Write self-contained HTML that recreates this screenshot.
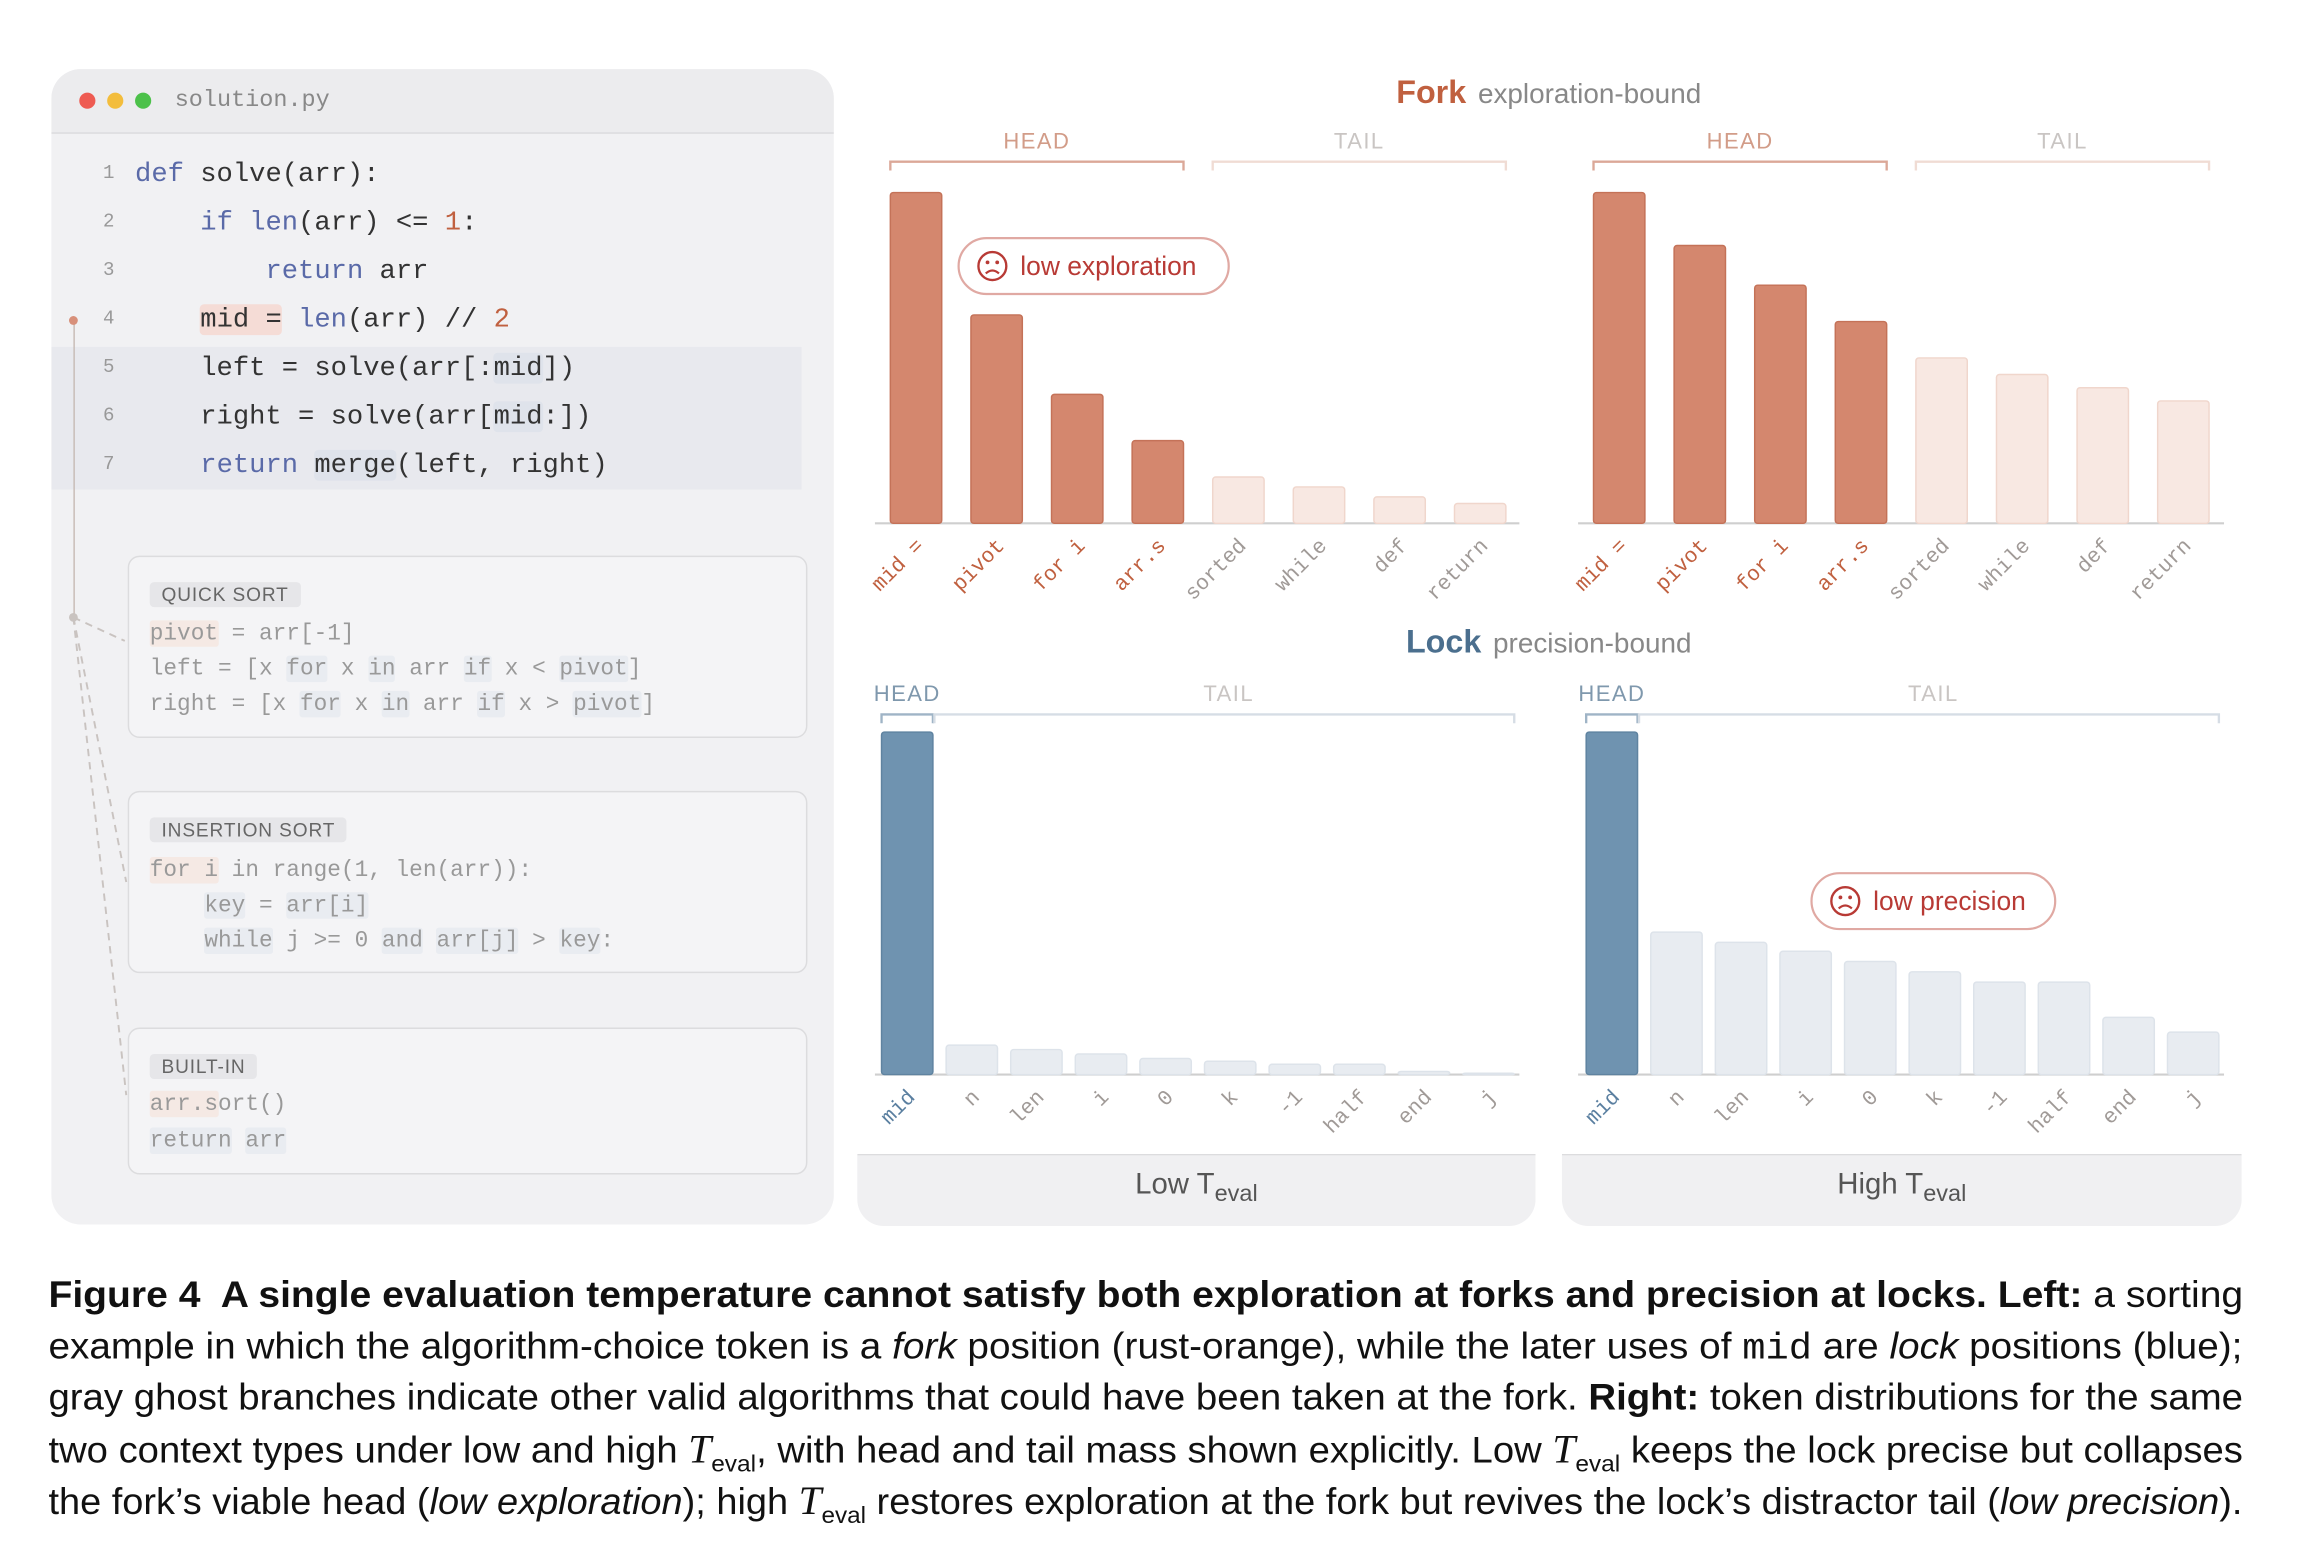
<!DOCTYPE html>
<html><head><meta charset="utf-8"><style>
html,body{margin:0;padding:0;background:#fff;width:2300px;height:1564px;overflow:hidden}
#wrap{position:absolute;left:0;top:0;width:1560px;height:1061px;transform:scale(1.468,1.470);transform-origin:0 0;font-family:"Liberation Sans",sans-serif}
.abs{position:absolute}
.mono{font-family:"Liberation Mono",monospace}
.code{position:absolute;left:92px;font-size:18.5px;color:#333;white-space:pre;line-height:24px}
.ln{position:absolute;left:64px;width:14px;text-align:right;font-size:13px;color:#999;font-family:"Liberation Mono",monospace}
.kw{color:#5a6aa8}.num{color:#c0603f}
.hl{background:#f5dcd6;border-radius:3px}
.hb{background:#dfe3eb;border-radius:3px}
.box{position:absolute;left:87px;width:461px;border:1.5px solid #dcdcde;border-radius:8px;background:#f4f4f6}
.tag{position:absolute;left:14px;font-size:13px;letter-spacing:0.6px;color:#666;background:#e6e6e9;padding:1px 8px;border-radius:3px}
.bc{position:absolute;left:14px;font-size:15.5px;color:#999;white-space:pre;font-family:"Liberation Mono",monospace;line-height:20px}
.g{background:#e9ecf1;border-radius:2px}.o{background:#f5e9e4;border-radius:2px}
.cap{position:absolute;left:33px;font-size:25px;color:#111;white-space:nowrap;transform-origin:0 50%;line-height:30px}
.T{font-family:"Liberation Serif",serif;font-style:italic;font-size:27px}
sub{font-size:16px;line-height:0}
</style></head><body>
<div id="wrap">
<div class="abs" style="left:35px;top:47px;width:533px;height:786px;background:#f1f1f3;border-radius:20px;overflow:hidden">
  <div class="abs" style="left:0;top:0;width:533px;height:43px;background:#ececee;border-bottom:1.5px solid #dcdcde"></div>
  <div class="abs" style="left:19px;top:16px;width:11px;height:11px;border-radius:50%;background:#ee5b52"></div>
  <div class="abs" style="left:38px;top:16px;width:11px;height:11px;border-radius:50%;background:#f3bd3c"></div>
  <div class="abs" style="left:57px;top:16px;width:11px;height:11px;border-radius:50%;background:#4cc14a"></div>
  <div class="abs mono" style="left:84px;top:12px;font-size:16px;color:#888">solution.py</div>
  <div class="abs" style="left:0;top:189px;width:511px;height:97px;background:#e8e9ee"></div>
</div>
<div class="abs" style="left:49.5px;top:218px;width:1.5px;height:203px;background:#c8bcb6"></div>
<div class="abs" style="left:47px;top:215px;width:6px;height:6px;border-radius:50%;background:#d8907a"></div>
<svg class="abs" style="left:0;top:0" width="600" height="833">
<g stroke="#c9c3c0" stroke-width="1.3" stroke-dasharray="5,4" fill="none">
<path d="M50 420 L85 436"/><path d="M50 420 L86 600"/><path d="M50 420 L86 745"/></g>
<circle cx="50" cy="420" r="3" fill="#c9c3c0"/></svg>
<div class="ln" style="top:110px">1</div><div class="ln" style="top:143px">2</div><div class="ln" style="top:176px">3</div><div class="ln" style="top:209px">4</div><div class="ln" style="top:242px">5</div><div class="ln" style="top:275px">6</div><div class="ln" style="top:308px">7</div>
<div class="code mono" style="top:107px"><span class="kw">def</span> solve(arr):</div>
<div class="code mono" style="top:140px">    <span class="kw">if</span> <span class="kw">len</span>(arr) &lt;= <span class="num">1</span>:</div>
<div class="code mono" style="top:173px">        <span class="kw">return</span> arr</div>
<div class="code mono" style="top:206px">    <span class="hl">mid =</span> <span class="kw">len</span>(arr) // <span class="num">2</span></div>
<div class="code mono" style="top:239px">    left = solve(arr[:<span class="hb">mid</span>])</div>
<div class="code mono" style="top:272px">    right = solve(arr[<span class="hb">mid</span>:])</div>
<div class="code mono" style="top:305px">    <span class="kw">return</span> <span class="hb">merge</span>(left, right)</div>

<div class="box" style="top:378px;height:122px">
 <div class="tag" style="top:17px">QUICK SORT</div>
 <div class="bc" style="top:42px"><span class="o">pivot</span> = arr[-1]</div>
 <div class="bc" style="top:66px">left = [x <span class="g">for</span> x <span class="g">in</span> arr <span class="g">if</span> x &lt; <span class="g">pivot</span>]</div>
 <div class="bc" style="top:90px">right = [x <span class="g">for</span> x <span class="g">in</span> arr <span class="g">if</span> x &gt; <span class="g">pivot</span>]</div>
</div>
<div class="box" style="top:538px;height:122px">
 <div class="tag" style="top:17px">INSERTION SORT</div>
 <div class="bc" style="top:43px"><span class="o">for i</span> in range(1, len(arr)):</div>
 <div class="bc" style="top:67px">    <span class="g">key</span> = <span class="g">arr[i]</span></div>
 <div class="bc" style="top:91px">    <span class="g">while</span> j &gt;= 0 <span class="g">and</span> <span class="g">arr[j]</span> &gt; <span class="g">key</span>:</div>
</div>
<div class="box" style="top:699px;height:98px">
 <div class="tag" style="top:17px">BUILT-IN</div>
 <div class="bc" style="top:41px"><span class="o">arr.s</span>ort()</div>
 <div class="bc" style="top:66px"><span class="g">return</span> <span class="g">arr</span></div>
</div>

<div class="abs" style="left:584px;top:785px;width:462px;height:48px;background:#f0f0f2;border-radius:0 0 18px 18px;border-top:1.5px solid #dcdcde"></div>
<div class="abs" style="left:1064px;top:785px;width:463px;height:48px;background:#f0f0f2;border-radius:0 0 18px 18px;border-top:1.5px solid #dcdcde"></div>
<div class="abs" style="left:584px;width:462px;top:795px;text-align:center;font-size:20px;color:#555">Low T<sub>eval</sub></div>
<div class="abs" style="left:1064px;width:463px;top:795px;text-align:center;font-size:20px;color:#555">High T<sub>eval</sub></div>

<svg id="charts" class="abs" style="left:0;top:0" width="1560" height="860"></svg>

<div class="cap" style="top:866px"><b>Figure 4&nbsp; A single evaluation temperature cannot satisfy both exploration at forks and precision at locks. Left:</b> a sorting</div>
<div class="cap" style="top:901px">example in which the algorithm-choice token is a <i>fork</i> position (rust-orange), while the later uses of <span class="mono">mid</span> are <i>lock</i> positions (blue);</div>
<div class="cap" style="top:936px">gray ghost branches indicate other valid algorithms that could have been taken at the fork. <b>Right:</b> token distributions for the same</div>
<div class="cap" style="top:971px">two context types under low and high <span class="T">T</span><sub>eval</sub>, with head and tail mass shown explicitly. Low <span class="T">T</span><sub>eval</sub> keeps the lock precise but collapses</div>
<div class="cap" style="top:1006px">the fork’s viable head (<i>low exploration</i>); high <span class="T">T</span><sub>eval</sub> restores exploration at the fork but revives the lock’s distractor tail (<i>low precision</i>).</div>
</div>
<script>
const forkTokens = ["mid =","pivot","for i","arr.s","sorted","while","def","return"];
const forkLow = [100,63,39,25,14,11,8,6];
const forkHigh = [100,84,72,61,50,45,41,37];
const forkHeadCount = 4;
const lockTokens = ["mid","n","len","i","0","k","-1","half","end","j"];
const lockLow = [100,8.6,7.3,6,4.7,3.9,3,3,0.9,0.4];
const lockHigh = [100,41.6,38.6,36,33,30,27,27,16.7,12.4];
const lockHeadCount = 1;

const NS="http://www.w3.org/2000/svg";
const svg=document.getElementById('charts');
function mk(tag,attrs,parent){const e=document.createElementNS(NS,tag);for(const k in attrs)e.setAttribute(k,attrs[k]);(parent||svg).appendChild(e);return e;}
function txt(s,attrs,parent){const e=mk('text',attrs,parent);e.textContent=s;return e;}

function drawChart(o){
  const n=o.tokens.length;
  const xs=i=>o.x0+i*o.step;
  const ys=v=>o.base-v*o.pxPerUnit;
  const g=mk('g',{});
  
  
  const hx0=xs(0)-o.bw/2, hx1=xs(o.head-1)+o.bw/2, tx0=xs(o.head)-o.bw/2+ (o.head===1?-8:0), tx1=xs(n-1)+o.bw/2;
  const hb=mk('path',{d:`M${hx0} ${o.brY+6}V${o.brY}H${hx1}V${o.brY+6}`,stroke:o.headBr,'stroke-width':1.6,fill:'none'},g);
  
  
  const tb=mk('path',{d:`M${tx0} ${o.brY+6}V${o.brY}H${tx1}V${o.brY+6}`,stroke:o.tailBr,'stroke-width':1.6,fill:'none'},g);
  
  
  const hl=txt('HEAD',{x:o.headLabelX!=null?o.headLabelX:(hx0+hx1)/2,y:o.brY-9,'text-anchor':'middle','font-size':15,'letter-spacing':1,fill:o.headLbl,'font-family':'Liberation Sans'},g);
  
  
  const tl=txt('TAIL',{x:(o.tailLabelX!=null?o.tailLabelX:(tx0+tx1)/2),y:o.brY-9,'text-anchor':'middle','font-size':15,'letter-spacing':1,fill:'#c9c5c3','font-family':'Liberation Sans'},g);
  
  
  const bl=mk('line',{x1:o.axisX0,x2:o.axisX1,y1:o.base,y2:o.base,stroke:'#cfcfcf','stroke-width':1.5},g);
  
  
  o.values.forEach((v,i)=>{
    const head=i<o.head;
    const r=mk('rect',{x:xs(i)-o.bw/2,y:ys(v),width:o.bw,height:Math.max(o.base-ys(v),1),rx:2,fill:head?o.headFill:o.tailFill,stroke:head?o.headStroke:o.tailStroke,'stroke-width':1},g);
    
    
    const t=txt(o.tokens[i],{x:xs(i)+6,y:o.base+16,'text-anchor':'end','font-size':14.5,'font-family':'Liberation Mono',fill:head?o.headTxt:'#a09a97',transform:`rotate(-45 ${xs(i)+6} ${o.base+16})`},g);
    
    
  });
}
const forkStyle={step:54.9,bw:35,base:356,pxPerUnit:2.25,brY:110,head:forkHeadCount,headFill:'#d4876e',headStroke:'#c47258',tailFill:'#f8e8e2',tailStroke:'#f0d6cc',headBr:'#dba898',tailBr:'#f0dcd4',headLbl:'#d29c88',headTxt:'#c0603f'};
drawChart(Object.assign({name:'fork-low-chart',tokens:forkTokens,values:forkLow,x0:624,axisX0:596,axisX1:1035},forkStyle));
drawChart(Object.assign({name:'fork-high-chart',tokens:forkTokens,values:forkHigh,x0:1103,axisX0:1075,axisX1:1515},forkStyle));
const lockStyle={step:44,bw:35,base:731,pxPerUnit:2.33,brY:486,head:lockHeadCount,headFill:'#6f93b0',headStroke:'#5f83a0',tailFill:'#e8ecf1',tailStroke:'#dde3ea',headBr:'#9fb4c6',tailBr:'#d6dde5',headLbl:'#7f98ad',headTxt:'#5a7fa0'};
drawChart(Object.assign({name:'lock-low-chart',tokens:lockTokens,values:lockLow,x0:618,axisX0:596,axisX1:1035,headLabelX:618,tailLabelX:837},lockStyle));
drawChart(Object.assign({name:'lock-high-chart',tokens:lockTokens,values:lockHigh,x0:1098,axisX0:1075,axisX1:1515,headLabelX:1098,tailLabelX:1317},lockStyle));
function title(x,y,a,b,col,nm){const t=mk('text',{x:x,y:y,'text-anchor':'middle','font-family':'Liberation Sans'});
 
 
 const s1=mk('tspan',{'font-weight':'bold','font-size':22,fill:col},t);s1.textContent=a;
 const s2=mk('tspan',{'font-size':19,fill:'#888',dx:8},t);s2.textContent=b;}
title(1055,70,'Fork','exploration-bound','#c0603f','fork-title');
title(1055,444,'Lock','precision-bound','#4b6f8e','lock-title');
function badge(x,y,w,label,nm){const g=mk('g',{});
 
 
 mk('rect',{x:x,y:y,width:w,height:38,rx:19,fill:'#fff',stroke:'#e0a9a3','stroke-width':1.5},g);
 const cx=x+23,cy=y+19;
 mk('circle',{cx:cx,cy:cy,r:9.5,fill:'none',stroke:'#b83a35','stroke-width':1.6},g);
 mk('circle',{cx:cx-3.3,cy:cy-2.5,r:1.3,fill:'#b83a35'},g);
 mk('circle',{cx:cx+3.3,cy:cy-2.5,r:1.3,fill:'#b83a35'},g);
 mk('path',{d:`M${cx-4.5} ${cy+5}Q${cx} ${cy+1} ${cx+4.5} ${cy+5}`,stroke:'#b83a35','stroke-width':1.5,fill:'none'},g);
 txt(label,{x:x+42,y:y+25,'font-size':18,fill:'#b83a35','font-family':'Liberation Sans'},g);}
badge(653,162,184,'low exploration','low-exploration-badge');
badge(1234,594,166,'low precision','low-precision-badge');
document.querySelectorAll('.cap').forEach(c=>{const w=c.scrollWidth;c.style.transform='scaleX('+(1495/w)+')';});
</script>
</body></html>
